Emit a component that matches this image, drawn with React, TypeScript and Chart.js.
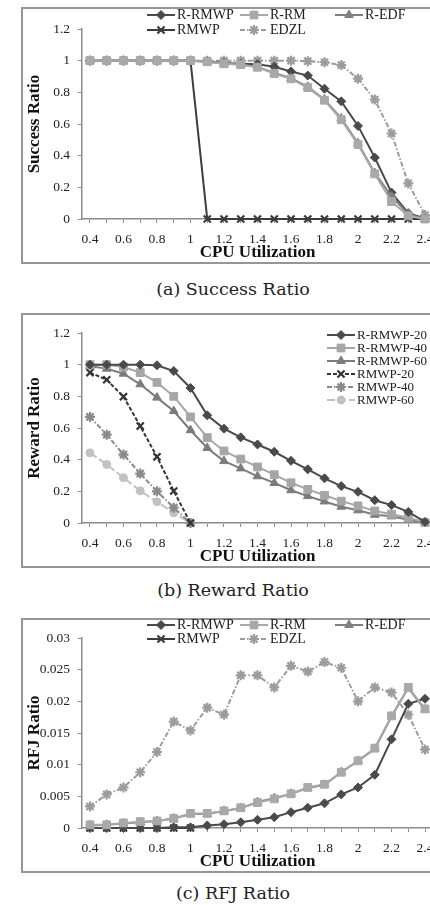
import React, { useEffect, useRef } from 'react';
import { Chart, registerables } from 'chart.js';
import { drawPoint } from 'chart.js/helpers';

Chart.register(...registerables);
Chart.defaults.font.family = '"Liberation Serif", "Times New Roman", serif';

// ---------- data ----------
const X_LABELS = ['0.4', '0.5', '0.6', '0.7', '0.8', '0.9', '1', '1.1', '1.2', '1.3', '1.4', '1.5', '1.6', '1.7', '1.8', '1.9', '2', '2.1', '2.2', '2.3', '2.4'];

const SUCCESS_Y_TICKS = [0, 0.2, 0.4, 0.6, 0.8, 1, 1.2];
const SUCCESS_R_RMWP = [1, 1, 1, 1, 1, 1, 1, 0.995, 0.985, 0.98, 0.977, 0.962, 0.932, 0.906, 0.823, 0.743, 0.588, 0.388, 0.167, 0.037, 0.003];
const SUCCESS_R_RM = [1, 1, 1, 1, 1, 1, 1, 0.993, 0.98, 0.975, 0.958, 0.918, 0.885, 0.83, 0.75, 0.627, 0.47, 0.285, 0.11, 0.02, 0];
const SUCCESS_R_EDF = [1, 1, 1, 1, 1, 1, 1, 0.993, 0.98, 0.975, 0.96, 0.922, 0.889, 0.835, 0.755, 0.635, 0.478, 0.29, 0.145, 0.03, 0];
const SUCCESS_RMWP = [1, 1, 1, 1, 1, 1, 1, 0, 0, 0, 0, 0, 0, 0, 0, 0, 0, 0, 0, 0, 0];
const SUCCESS_EDZL = [1, 1, 1, 1, 1, 1, 1, 1, 1, 1, 1, 1, 1, 0.997, 0.99, 0.972, 0.886, 0.754, 0.54, 0.225, 0.025];

const REWARD_Y_TICKS = [0, 0.2, 0.4, 0.6, 0.8, 1, 1.2];
const REWARD_R_RMWP_20 = [1, 1, 1, 1, 0.996, 0.96, 0.853, 0.68, 0.596, 0.541, 0.496, 0.45, 0.393, 0.339, 0.282, 0.233, 0.197, 0.144, 0.113, 0.07, 0.007];
const REWARD_R_RMWP_40 = [1, 1, 0.985, 0.95, 0.888, 0.8, 0.67, 0.539, 0.455, 0.404, 0.354, 0.305, 0.254, 0.212, 0.175, 0.138, 0.108, 0.076, 0.056, 0.033, 0.003];
const REWARD_R_RMWP_60 = [0.99, 0.975, 0.943, 0.876, 0.792, 0.707, 0.586, 0.474, 0.391, 0.345, 0.295, 0.253, 0.207, 0.17, 0.136, 0.103, 0.08, 0.052, 0.042, 0.021, 0];
const REWARD_RMWP_20 = [0.95, 0.905, 0.798, 0.612, 0.418, 0.202, 0, null, null, null, null, null, null, null, null, null, null, null, null, null, null];
const REWARD_RMWP_40 = [0.67, 0.558, 0.432, 0.312, 0.2, 0.097, 0, null, null, null, null, null, null, null, null, null, null, null, null, null, null];
const REWARD_RMWP_60 = [0.443, 0.37, 0.286, 0.203, 0.134, 0.064, 0, null, null, null, null, null, null, null, null, null, null, null, null, null, null];

const RFJ_Y_TICKS = [0, 0.005, 0.01, 0.015, 0.02, 0.025, 0.03];
const RFJ_R_RMWP = [0, 0, 0, 0, 0, 0.0001, 0.0001, 0.0004, 0.0006, 0.0009, 0.0013, 0.0017, 0.0025, 0.0032, 0.0039, 0.0053, 0.0064, 0.0084, 0.014, 0.0196, 0.0204];
const RFJ_R_RM = [0.0005, 0.0005, 0.0008, 0.001, 0.0011, 0.0015, 0.0023, 0.0023, 0.0027, 0.0032, 0.004, 0.0046, 0.0054, 0.0064, 0.0069, 0.0088, 0.0106, 0.0126, 0.0177, 0.0222, 0.0188];
const RFJ_R_EDF = [0.0004, 0.0005, 0.0007, 0.0009, 0.0011, 0.0015, 0.0022, 0.0022, 0.0027, 0.0031, 0.0041, 0.0047, 0.0054, 0.0063, 0.0068, 0.0088, 0.0106, 0.0125, 0.0176, 0.0221, 0.0187];
const RFJ_RMWP = [0, 0, 0, 0, 0, 0, 0, null, null, null, null, null, null, null, null, null, null, null, null, null, null];
const RFJ_EDZL = [0.0034, 0.0053, 0.0064, 0.0088, 0.012, 0.0168, 0.0154, 0.019, 0.0179, 0.0241, 0.0241, 0.0222, 0.0256, 0.0247, 0.0262, 0.0253, 0.02, 0.0222, 0.0214, 0.0179, 0.0124];

// ---------- styles ----------
type Style = { color: string; dash: number[]; point: string; radius: number; pw: number; order: number };
const ST: Record<string, Style> = {
  rrmwp: { color: '#4a4a4a', dash: [], point: 'rectRot', radius: 4.5, pw: 1, order: 2 },
  rrm: { color: '#a9a9a9', dash: [], point: 'rect', radius: 5.5, pw: 1, order: 0 },
  redf: { color: '#808080', dash: [], point: 'triangle', radius: 5, pw: 1, order: 1 },
  rmwp: { color: '#3c3c3c', dash: [], point: 'crossRot', radius: 5, pw: 2.2, order: 3 },
  edzl: { color: '#9c9c9c', dash: [5, 2, 1.5, 2], point: 'star', radius: 5, pw: 2.2, order: 4 },
  r20: { color: '#4a4a4a', dash: [], point: 'rectRot', radius: 4.5, pw: 1, order: 0 },
  r40: { color: '#a6a6a6', dash: [], point: 'rect', radius: 5.5, pw: 1, order: 1 },
  r60: { color: '#7c7c7c', dash: [], point: 'triangle', radius: 5, pw: 1, order: 2 },
  m20: { color: '#363636', dash: [4, 2], point: 'crossRot', radius: 5, pw: 2.2, order: 3 },
  m40: { color: '#8a8a8a', dash: [5, 2, 1.5, 2], point: 'star', radius: 5, pw: 2.2, order: 4 },
  m60: { color: '#c2c2c2', dash: [8, 3], point: 'circle', radius: 4, pw: 1, order: 5 },
};

type SeriesDef = { label: string; data: (number | null)[]; st: Style };
type LegendPos = { i: number; x: number; y: number };

type PanelDef = {
  boxTop: number;
  boxH: number;
  plotTop: number;
  yMax: number;
  yTicks: number[];
  yTitle: string;
  series: SeriesDef[];
  legend: LegendPos[];
  legendFont: number;
  caption: string;
  captionY: number;
};

const PANELS: PanelDef[] = [
  {
    boxTop: 7, boxH: 257, plotTop: 22, yMax: 1.2, yTicks: SUCCESS_Y_TICKS, yTitle: 'Success Ratio',
    series: [
      { label: 'R-RMWP', data: SUCCESS_R_RMWP, st: ST.rrmwp },
      { label: 'R-RM', data: SUCCESS_R_RM, st: ST.rrm },
      { label: 'R-EDF', data: SUCCESS_R_EDF, st: ST.redf },
      { label: 'RMWP', data: SUCCESS_RMWP, st: ST.rmwp },
      { label: 'EDZL', data: SUCCESS_EDZL, st: ST.edzl },
    ],
    legend: [{ i: 0, x: 147, y: 8 }, { i: 1, x: 240, y: 8 }, { i: 2, x: 335, y: 8 }, { i: 3, x: 147, y: 23 }, { i: 4, x: 240, y: 23 }],
    legendFont: 14,
    caption: '(a) Success Ratio', captionY: 289,
  },
  {
    boxTop: 313, boxH: 255, plotTop: 20, yMax: 1.2, yTicks: REWARD_Y_TICKS, yTitle: 'Reward Ratio',
    series: [
      { label: 'R-RMWP-20', data: REWARD_R_RMWP_20, st: ST.r20 },
      { label: 'R-RMWP-40', data: REWARD_R_RMWP_40, st: ST.r40 },
      { label: 'R-RMWP-60', data: REWARD_R_RMWP_60, st: ST.r60 },
      { label: 'RMWP-20', data: REWARD_RMWP_20, st: ST.m20 },
      { label: 'RMWP-40', data: REWARD_RMWP_40, st: ST.m40 },
      { label: 'RMWP-60', data: REWARD_RMWP_60, st: ST.m60 },
    ],
    legend: [{ i: 0, x: 327, y: 22 }, { i: 1, x: 327, y: 35 }, { i: 2, x: 327, y: 48 }, { i: 3, x: 327, y: 61 }, { i: 4, x: 327, y: 74 }, { i: 5, x: 327, y: 87 }],
    legendFont: 13,
    caption: '(b) Reward Ratio', captionY: 590,
  },
  {
    boxTop: 618, boxH: 255, plotTop: 20, yMax: 0.03, yTicks: RFJ_Y_TICKS, yTitle: 'RFJ Ratio',
    series: [
      { label: 'R-RMWP', data: RFJ_R_RMWP, st: ST.rrmwp },
      { label: 'R-RM', data: RFJ_R_RM, st: ST.rrm },
      { label: 'R-EDF', data: RFJ_R_EDF, st: ST.redf },
      { label: 'RMWP', data: RFJ_RMWP, st: ST.rmwp },
      { label: 'EDZL', data: RFJ_EDZL, st: ST.edzl },
    ],
    legend: [{ i: 0, x: 147, y: 7 }, { i: 1, x: 240, y: 7 }, { i: 2, x: 335, y: 7 }, { i: 3, x: 147, y: 21 }, { i: 4, x: 240, y: 21 }],
    legendFont: 14,
    caption: '(c) RFJ Ratio', captionY: 893,
  },
];

const CANVAS_W = 460;
const PAD_LEFT = 24.8;
const Y_AXIS_W = 56.8;
const PAD_RIGHT = 26.6;
const X_AXIS_H = 45;
const AXIS_COLOR = '#8c8c8c';
const TEXT_COLOR = '#222';

function makeLegendPlugin(p: PanelDef) {
  return {
    id: 'gridLegend',
    afterDraw(chart: any) {
      const ctx = chart.ctx as CanvasRenderingContext2D;
      const lineLen = 28;
      ctx.save();
      for (const pos of p.legend) {
        const s = p.series[pos.i];
        const st = s.st;
        ctx.strokeStyle = st.color;
        ctx.lineWidth = 2;
        ctx.setLineDash(st.dash);
        ctx.beginPath();
        ctx.moveTo(pos.x, pos.y);
        ctx.lineTo(pos.x + lineLen, pos.y);
        ctx.stroke();
        ctx.setLineDash([]);
        ctx.fillStyle = st.color;
        ctx.strokeStyle = st.color;
        ctx.lineWidth = st.pw;
        drawPoint(ctx, { pointStyle: st.point as any, rotation: 0, radius: st.radius, borderWidth: st.pw } as any, pos.x + lineLen / 2, pos.y);
        ctx.fillStyle = TEXT_COLOR;
        ctx.font = `${p.legendFont}px "Liberation Serif", serif`;
        ctx.textBaseline = 'middle';
        ctx.textAlign = 'left';
        ctx.fillText(s.label, pos.x + lineLen + 2, pos.y + 0.5);
      }
      ctx.restore();
    },
  };
}

function Panel({ p }: { p: PanelDef }) {
  const ref = useRef<HTMLCanvasElement>(null);
  useEffect(() => {
    if (!ref.current) return;
    const chart = new Chart(ref.current, {
      type: 'line',
      data: {
        labels: X_LABELS,
        datasets: p.series.map((s) => ({
          label: s.label,
          data: s.data,
          borderColor: s.st.color,
          backgroundColor: s.st.color,
          borderWidth: 2,
          borderDash: s.st.dash,
          pointStyle: s.st.point as any,
          pointRadius: s.st.radius,
          pointBackgroundColor: s.st.color,
          pointBorderColor: s.st.color,
          pointBorderWidth: s.st.pw,
          tension: 0,
          fill: false,
          spanGaps: false,
          clip: false as any,
          order: s.st.order,
        })),
      },
      options: {
        responsive: false,
        maintainAspectRatio: false,
        animation: false,
        devicePixelRatio: 1,
        layout: { padding: { left: PAD_LEFT, right: PAD_RIGHT, top: p.plotTop, bottom: 0 } },
        plugins: { legend: { display: false }, tooltip: { enabled: false }, title: { display: false } },
        scales: {
          x: {
            type: 'category',
            offset: true,
            afterFit: (s: any) => { s.height = X_AXIS_H; },
            grid: { drawOnChartArea: false, drawTicks: true, tickLength: 4, color: AXIS_COLOR, lineWidth: 1 },
            border: { color: AXIS_COLOR, width: 1.5 },
            ticks: {
              autoSkip: false, maxRotation: 0, minRotation: 0, padding: 8,
              font: { size: 13.5 }, color: TEXT_COLOR,
              callback: (_v: any, i: number) => (i % 2 === 0 ? X_LABELS[i] : ''),
            },
            title: { display: true, text: 'CPU Utilization', font: { size: 17, weight: 'bold' }, color: '#111', padding: { top: 0, bottom: 1 } },
          },
          y: {
            type: 'linear',
            min: 0,
            max: p.yMax,
            afterBuildTicks: (s: any) => { s.ticks = p.yTicks.map((v) => ({ value: v })); },
            afterFit: (s: any) => { s.width = Y_AXIS_W; },
            grid: { drawOnChartArea: false, drawTicks: true, tickLength: 4, color: AXIS_COLOR, lineWidth: 1 },
            border: { color: AXIS_COLOR, width: 1.5 },
            ticks: { padding: 7.5, font: { size: 13.5 }, color: TEXT_COLOR, callback: (v: any) => String(v) },
            title: { display: true, text: p.yTitle, font: { size: 17, weight: 'bold' }, color: '#111', padding: 0 },
          },
        },
      } as any,
      plugins: [makeLegendPlugin(p)],
    });
    return () => chart.destroy();
  }, [p]);

  return (
    <>
      <div
        style={{
          position: 'absolute', left: 21, top: p.boxTop, width: 460, height: p.boxH,
          border: '2px solid #969696', boxSizing: 'border-box',
        }}
      />
      <canvas
        ref={ref}
        width={CANVAS_W}
        height={p.boxH}
        style={{ position: 'absolute', left: 0, top: p.boxTop, width: CANVAS_W, height: p.boxH }}
      />
      <div
        style={{
          position: 'absolute', left: 0, width: 466, top: p.captionY - 12, height: 24, lineHeight: '24px',
          textAlign: 'center', fontFamily: '"DejaVu Serif", serif', fontSize: 17.5, color: '#222', whiteSpace: 'nowrap',
        }}
      >
        {p.caption}
      </div>
    </>
  );
}

export default function App() {
  return (
    <div style={{ position: 'fixed', left: 0, top: 0, width: 430, height: 905, overflow: 'hidden', background: '#fff' }}>
      {PANELS.map((p, k) => (
        <Panel key={k} p={p} />
      ))}
    </div>
  );
}
